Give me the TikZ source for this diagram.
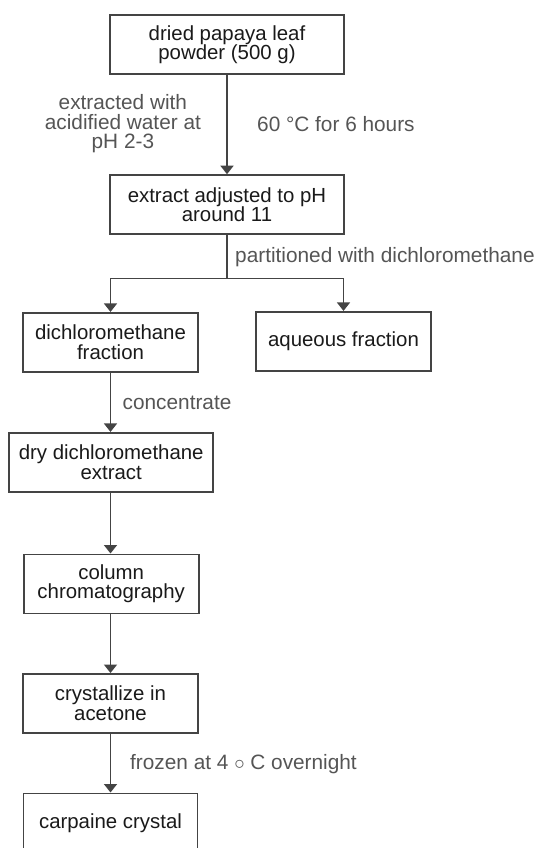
\documentclass[tikz,border=0pt]{standalone}
\usepackage{fontspec}
\setmainfont{Liberation Sans}[Ligatures=NoCommon]
\usetikzlibrary{arrows.meta}
\definecolor{edgegray}{HTML}{444444}
\definecolor{labelgray}{HTML}{555555}
\definecolor{textdark}{HTML}{1A1A1A}
\begin{document}
\begin{tikzpicture}[x=1pt,y=-1pt,
  stepbox/.style={draw=edgegray, line width=1.6pt, fill=white, minimum height=59pt,
    inner sep=0pt, align=center, text=textdark, font=\fontsize{20.4}{19.5}\selectfont},
  lab/.style={text=labelgray, align=center, inner sep=0pt, font=\fontsize{20.8}{19.5}\selectfont},
  conn/.style={draw=edgegray, line width=1.6pt, -{Triangle[width=13pt,length=8.5pt]}},
  plain/.style={draw=edgegray, line width=1.6pt}]
\useasboundingbox (0,0) rectangle (538,848);
\clip (0,0) rectangle (538,848);
\fill[white] (0,0) rectangle (538,848);
\node[stepbox, minimum width=234pt] (n1) at (227,44.5) {dried papaya leaf\\powder (500 g)};
\node[stepbox, minimum width=234pt] (n2) at (227,204.5) {extract adjusted to pH\\around 11};
\node[stepbox, minimum width=174.5pt] (n3) at (110.5,342.2) {dichloromethane\\fraction};
\node[stepbox, minimum width=175pt] (n4) at (343.5,341.2) {aqueous fraction};
\node[stepbox, minimum width=204pt] (n5) at (111.2,462.2) {dry dichloromethane\\extract};
\node[stepbox, minimum width=175pt] (n6) at (111.2,583.8) {column\\chromatography};
\node[stepbox, minimum width=174.5pt] (n7) at (110.5,703.3) {crystallize in\\acetone};
\node[stepbox, minimum width=174pt, minimum height=60pt] (n8) at (110.5,823.3) {carpaine crystal};

\node[lab] (l1) at (122.9,124) {extracted with\\acidified water at\\pH 2-3};
\node[lab, anchor=west] (l2) at (257,124) {60 \textdegree C for 6 hours};
\node[lab, anchor=west] (l3) at (235,257.5) {partitioned with dichloromethane};
\node[lab, anchor=west] (l4) at (122.5,403.3) {concentrate};
\node[lab, anchor=west] (l5) at (130,764.3) {frozen at 4 $\circ$ C overnight};

\coordinate (j) at (n2.south |- 0,278.3);
\draw[conn] (n1) -- (n2);
\draw[plain] (n2.south) -- (j);
\draw[conn] (j) -| (n3.north);
\draw[conn] (j) -| (n4.north);
\draw[conn] (n3) -- (n5.north -| n3.south);
\draw[conn] (n5.south -| n3.south) -- (n6.north -| n3.south);
\draw[conn] (n6.south -| n3.south) -- (n7.north -| n3.south);
\draw[conn] (n7) -- (n8);
\end{tikzpicture}
\end{document}
